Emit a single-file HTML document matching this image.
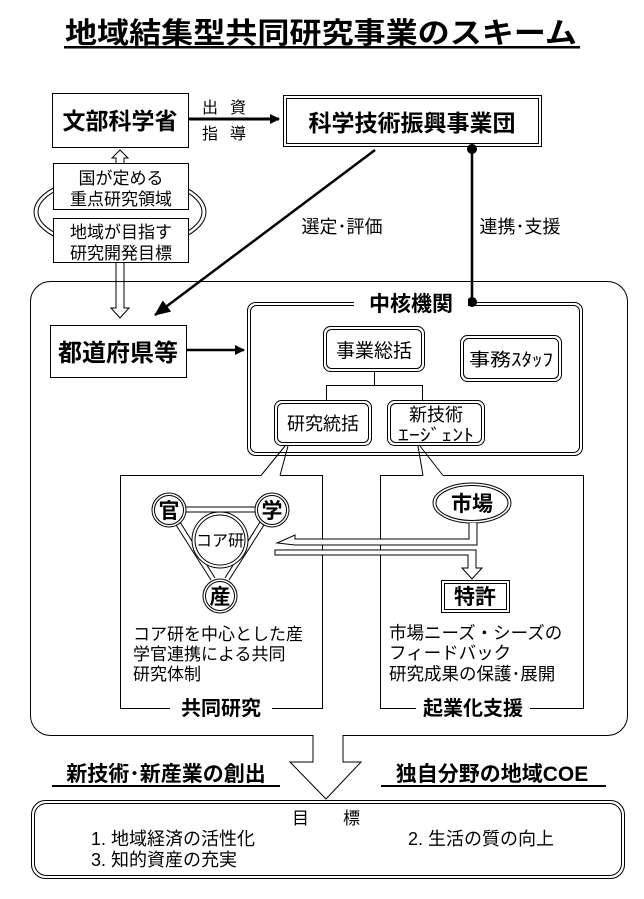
<!DOCTYPE html>
<html><head><meta charset="utf-8"><style>
html,body{margin:0;padding:0;background:#fff}
svg{display:block}
text{font-family:"Liberation Sans","Noto Sans CJK JP",sans-serif;fill:#000}
.b{font-weight:bold}
</style></head><body>
<svg width="644" height="899" viewBox="0 0 644 899" xmlns="http://www.w3.org/2000/svg">
<defs>
<marker id="ah" markerWidth="10" markerHeight="10" refX="9" refY="5" orient="auto" markerUnits="userSpaceOnUse"><path d="M0,0 L10,5 L0,10 Z" fill="#000"/></marker>
<marker id="ah2" markerWidth="16" markerHeight="14" refX="15" refY="7" orient="auto" markerUnits="userSpaceOnUse"><path d="M0,0 L16,7 L0,14 Z" fill="#000"/></marker>
</defs>
<text x="321" y="43" font-size="29" class="b" text-anchor="middle" textLength="512" lengthAdjust="spacingAndGlyphs">地域結集型共同研究事業のスキーム</text>
<rect x="64" y="46" width="516" height="2.5" fill="#000"/>

<rect x="52.5" y="93.5" width="136" height="54" fill="#fff" stroke="#000"/>
<text x="120" y="129" font-size="23" class="b" text-anchor="middle">文部科学省</text>
<line x1="189" y1="119" x2="279" y2="119" stroke="#000" stroke-width="3" marker-end="url(#ah)"/>
<text x="230" y="113" font-size="16" text-anchor="middle" letter-spacing="12">出資</text>
<text x="230" y="139" font-size="16" text-anchor="middle" letter-spacing="12">指導</text>

<rect x="283.5" y="95.5" width="258" height="51" fill="#fff" stroke="#000"/>
<rect x="286.5" y="98.5" width="252" height="45" fill="none" stroke="#000"/>
<text x="412" y="131" font-size="23" class="b" text-anchor="middle">科学技術振興事業団</text>

<ellipse cx="120" cy="212" rx="86" ry="38" fill="none" stroke="#000"/>
<ellipse cx="120" cy="212" rx="82" ry="34" fill="none" stroke="#000"/>
<path d="M116,163 L116,158 L112,158 L120,150 L128,158 L124,158 L124,163" fill="#fff" stroke="#000"/>
<rect x="53.5" y="163.5" width="135" height="46" fill="#fff" stroke="#000"/>
<text x="121" y="184" font-size="17" text-anchor="middle">国が定める</text>
<text x="121" y="205" font-size="17" text-anchor="middle">重点研究領域</text>
<rect x="53.5" y="218.5" width="135" height="44" fill="#fff" stroke="#000"/>
<text x="121" y="238" font-size="17" text-anchor="middle">地域が目指す</text>
<text x="121" y="259" font-size="17" text-anchor="middle">研究開発目標</text>
<path d="M116,263 L116,308 L111,308 L120,318 L129,308 L124,308 L124,263" fill="#fff" stroke="#000"/>

<rect x="30.5" y="281.5" width="597" height="454" rx="20" fill="none" stroke="#000"/>

<line x1="375" y1="150" x2="155" y2="315" stroke="#000" stroke-width="2.5" marker-end="url(#ah2)"/>
<text x="342" y="233" font-size="18" text-anchor="middle">選定･評価</text>
<line x1="472" y1="147" x2="472" y2="302" stroke="#000" stroke-width="2.5"/>
<circle cx="472" cy="149" r="5"/>
<circle cx="472" cy="302" r="5"/>
<text x="520" y="233" font-size="18" text-anchor="middle">連携･支援</text>

<rect x="50.5" y="325.5" width="136" height="52" fill="#fff" stroke="#000"/>
<text x="118" y="361" font-size="24" class="b" text-anchor="middle">都道府県等</text>
<line x1="187" y1="350" x2="244" y2="350" stroke="#000" stroke-width="2.5" marker-end="url(#ah)"/>

<rect x="247.5" y="302.5" width="335" height="153" rx="8" fill="none" stroke="#000"/>
<rect x="250.5" y="305.5" width="329" height="147" rx="6" fill="none" stroke="#000"/>
<rect x="354" y="293" width="114" height="20" fill="#fff"/>
<text x="411" y="311" font-size="21" class="b" text-anchor="middle">中核機関</text>

<rect x="323.5" y="326.5" width="101" height="45" rx="7" fill="#fff" stroke="#000"/>
<rect x="326.5" y="329.5" width="95" height="39" rx="5" fill="none" stroke="#000"/>
<text x="374" y="357" font-size="19" text-anchor="middle">事業総括</text>
<rect x="460.5" y="335.5" width="101" height="46" rx="7" fill="#fff" stroke="#000"/>
<rect x="463.5" y="338.5" width="95" height="40" rx="5" fill="none" stroke="#000"/>
<text x="511" y="366" font-size="18" text-anchor="middle" textLength="84" lengthAdjust="spacingAndGlyphs">事務ｽﾀｯﾌ</text>
<path d="M374.5,372 V385.5 M326.5,400 V385.5 H422.5 V400" fill="none" stroke="#000"/>
<rect x="274.5" y="400.5" width="97" height="45" rx="7" fill="#fff" stroke="#000"/>
<rect x="277.5" y="403.5" width="91" height="39" rx="5" fill="none" stroke="#000"/>
<text x="323" y="430" font-size="18" text-anchor="middle">研究統括</text>
<rect x="387.5" y="400.5" width="97" height="45" rx="7" fill="#fff" stroke="#000"/>
<rect x="390.5" y="403.5" width="91" height="39" rx="5" fill="none" stroke="#000"/>
<text x="436" y="421" font-size="18" text-anchor="middle">新技術</text>
<text x="436" y="441" font-size="17" text-anchor="middle" textLength="76" lengthAdjust="spacingAndGlyphs">ｴｰｼﾞｪﾝﾄ</text>

<path d="M261,475.5 H120.5 V708.5 H322.5 V475.5 H280" fill="none" stroke="#000"/>
<path d="M261,475.5 L285,446 M280,475.5 L288,446" fill="none" stroke="#000"/>
<rect x="170" y="698" width="102" height="20" fill="#fff"/>
<text x="221" y="715" font-size="20" class="b" text-anchor="middle">共同研究</text>

<path d="M423,475.5 H380.5 V708.5 H583.5 V475.5 H443" fill="none" stroke="#000"/>
<path d="M423,475.5 L418,446 M443,475.5 L420,446" fill="none" stroke="#000"/>
<rect x="416" y="698" width="114" height="20" fill="#fff"/>
<text x="473" y="715" font-size="20" class="b" text-anchor="middle">起業化支援</text>

<path d="M185,507 H255 M185,512 H255 M176,525 L211,580 M180,522 L215,578 M264,525 L229,580 M260,522 L225,578" fill="none" stroke="#000"/>
<circle cx="220" cy="540" r="28" fill="#fff" stroke="#000"/>
<circle cx="220" cy="540" r="25" fill="none" stroke="#000"/>
<text x="220" y="546" font-size="16" text-anchor="middle">コア研</text>
<circle cx="169" cy="510" r="17" fill="#fff" stroke="#000"/><circle cx="169" cy="510" r="14.5" fill="none" stroke="#000"/>
<text x="169" y="518" font-size="21" class="b" text-anchor="middle">官</text>
<circle cx="272" cy="510" r="17" fill="#fff" stroke="#000"/><circle cx="272" cy="510" r="14.5" fill="none" stroke="#000"/>
<text x="272" y="518" font-size="21" class="b" text-anchor="middle">学</text>
<circle cx="220" cy="596" r="17" fill="#fff" stroke="#000"/><circle cx="220" cy="596" r="14.5" fill="none" stroke="#000"/>
<text x="220" y="604" font-size="21" class="b" text-anchor="middle">産</text>

<text x="133" y="640" font-size="17">コア研を中心とした産</text>
<text x="133" y="660" font-size="17">学官連携による共同</text>
<text x="133" y="680" font-size="17">研究体制</text>

<ellipse cx="472" cy="503" rx="39" ry="20" fill="#fff" stroke="#000"/>
<ellipse cx="472" cy="503" rx="36" ry="17.5" fill="none" stroke="#000"/>
<text x="472" y="511" font-size="21" class="b" text-anchor="middle">市場</text>
<path d="M469,523 V539 H295 V535 L277,543 L295,545 H477 V523" fill="#fff" stroke="#000"/>
<path d="M275,550 V555 H468 V568 H462 L472,579 L482,568 H476 V550 Z" fill="#fff" stroke="#000"/>
<rect x="441.5" y="580.5" width="68" height="32" fill="#fff" stroke="#000"/>
<rect x="444.5" y="583.5" width="62" height="26" fill="none" stroke="#000"/>
<text x="475" y="604" font-size="21" class="b" text-anchor="middle">特許</text>

<text x="389" y="639" font-size="17.5">市場ニーズ・シーズの</text>
<text x="389" y="659" font-size="17.5">フィードバック</text>
<text x="389" y="680" font-size="17.5">研究成果の保護･展開</text>

<path d="M313,735 V762 H290 L326,799 L361,762 H343 V735" fill="#fff" stroke="#000"/>
<text x="166" y="781" font-size="21" class="b" text-anchor="middle">新技術･新産業の創出</text>
<rect x="52" y="785" width="228" height="2" fill="#000"/>
<text x="492" y="781" font-size="21" class="b" text-anchor="middle">独自分野の地域COE</text>
<rect x="381" y="785" width="225" height="2" fill="#000"/>

<rect x="31.5" y="800.5" width="593" height="78" rx="14" fill="#fff" stroke="#000"/>
<rect x="34.5" y="803.5" width="587" height="72" rx="12" fill="none" stroke="#000"/>
<text x="292" y="824" font-size="17">目</text>
<text x="343" y="824" font-size="17">標</text>
<text x="91" y="845" font-size="18">1. 地域経済の活性化</text>
<text x="408" y="845" font-size="18">2. 生活の質の向上</text>
<text x="91" y="866" font-size="18">3. 知的資産の充実</text>
</svg>
</body></html>
